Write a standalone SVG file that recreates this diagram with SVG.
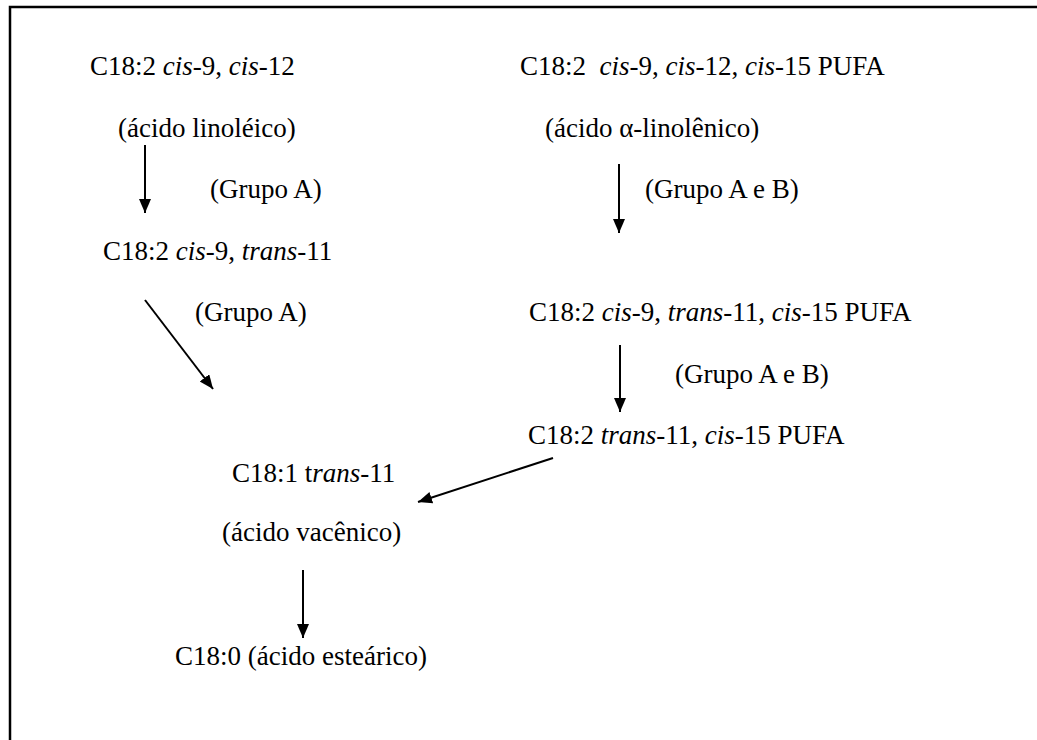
<svg xmlns="http://www.w3.org/2000/svg" width="1037" height="740" viewBox="0 0 1037 740">
<style>
text{font-family:"Liberation Serif","Times New Roman",serif;font-size:27px;fill:#000;white-space:pre}
.i{font-style:italic}
.c{stroke:#000;stroke-width:2;fill:none}
</style>
<defs>
<marker id="ah" markerUnits="userSpaceOnUse" markerWidth="15" markerHeight="13" refX="14" refY="6" orient="auto" viewBox="0 0 15 13">
<path d="M0,0 L14,6 L0,12 z" fill="#000"/>
</marker>
</defs>
<rect width="1037" height="740" fill="#fff"/>
<path d="M10,1100 L10,7 L1100,7" stroke="#000" stroke-width="2.5" fill="none"/>
<g id="n-linoleico">
<text x="90" y="75">C18:2 <tspan class="i">cis</tspan>-9, <tspan class="i">cis</tspan>-12</text>
<text x="118" y="137">(ácido linoléico)</text>
</g>
<g id="n-alfa">
<text x="520" y="75">C18:2  <tspan class="i">cis</tspan>-9, <tspan class="i">cis</tspan>-12, <tspan class="i">cis</tspan>-15 PUFA</text>
<text x="545" y="137">(ácido α-linolênico)</text>
</g>
<g id="n-cla">
<text x="103" y="260">C18:2 <tspan class="i">cis</tspan>-9, <tspan class="i">trans</tspan>-11</text>
</g>
<g id="n-cis9t11c15">
<text x="529" y="321">C18:2 <tspan class="i">cis</tspan>-9, <tspan class="i">trans</tspan>-11, <tspan class="i">cis</tspan>-15 PUFA</text>
</g>
<g id="n-t11c15">
<text x="528" y="444">C18:2 <tspan class="i">trans</tspan>-11, <tspan class="i">cis</tspan>-15 PUFA</text>
</g>
<g id="n-vacenico">
<text x="232" y="482">C18:1 t<tspan class="i">rans</tspan>-11</text>
<text x="222" y="541">(ácido vacênico)</text>
</g>
<g id="n-estearico">
<text x="175" y="665">C18:0 (ácido esteárico)</text>
</g>
<g id="labels">
<text x="210" y="198">(Grupo A)</text>
<text x="645" y="198">(Grupo A e B)</text>
<text x="195" y="321">(Grupo A)</text>
<text x="675" y="383">(Grupo A e B)</text>
</g>
<g id="connectors">
<line class="c" x1="145" y1="145" x2="145" y2="213" marker-end="url(#ah)"/>
<line class="c" x1="619" y1="164" x2="619" y2="233" marker-end="url(#ah)"/>
<line class="c" x1="145" y1="300" x2="213" y2="389" marker-end="url(#ah)"/>
<line class="c" x1="620" y1="345" x2="620" y2="412" marker-end="url(#ah)"/>
<line class="c" x1="553" y1="458" x2="418" y2="502" marker-end="url(#ah)"/>
<line class="c" x1="303" y1="570" x2="303" y2="638" marker-end="url(#ah)"/>
</g>
</svg>
